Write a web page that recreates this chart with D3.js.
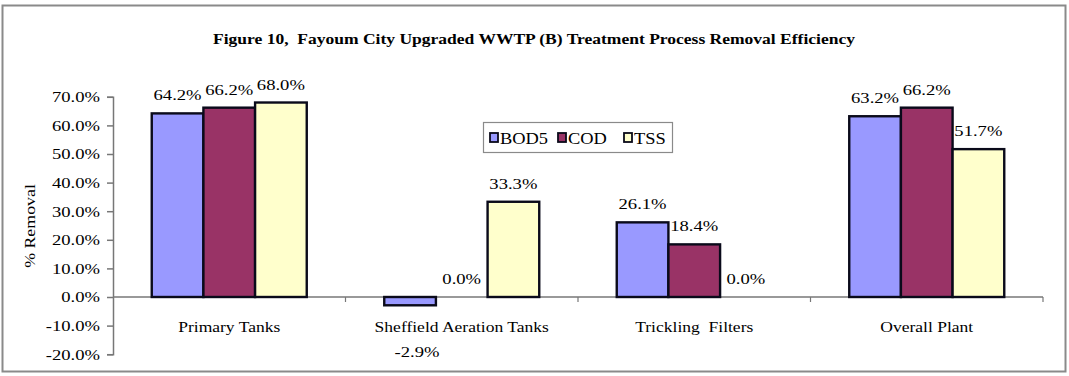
<!DOCTYPE html>
<html>
<head>
<meta charset="utf-8">
<script src="https://cdn.jsdelivr.net/npm/d3@7"></script>
<style>
  html, body { margin: 0; padding: 0; background: #ffffff; }
  svg { display: block; }
  text { font-family: "Liberation Serif", "Times New Roman", serif; fill: #000; }
</style>
</head>
<body>
<svg id="chart" width="1069" height="376"></svg>
<script>
// Treatment stages (categories) and removal efficiency per parameter (%)
const categories = ["Primary Tanks", "Sheffield Aeration Tanks", "Trickling  Filters", "Overall Plant"];
const seriesNames = ["BOD5", "COD", "TSS"];
const bod5 = [64.2, -2.9, 26.1, 63.2];
const cod = [66.2, 0.0, 18.4, 66.2];
const tss = [68.0, 33.3, 0.0, 51.7];
const yTicks = [-20, -10, 0, 10, 20, 30, 40, 50, 60, 70];
const titleText = "Figure 10,  Fayoum City Upgraded WWTP (B) Treatment Process Removal Efficiency";
const yAxisTitle = "% Removal";

const seriesValues = { BOD5: bod5, COD: cod, TSS: tss };
const colors = { BOD5: "#9999ff", COD: "#993366", TSS: "#ffffcc" };

const svg = d3.select("#chart");

// widen glyph runs a little (wide serif face)
function stretch(sel, k) {
  sel.each(function () {
    const len = this.getComputedTextLength();
    d3.select(this).attr("textLength", len * k).attr("lengthAdjust", "spacingAndGlyphs");
  });
}

// outer frame
svg.append("rect")
  .attr("x", 2.5).attr("y", 5.5).attr("width", 1063).attr("height", 366)
  .attr("fill", "#ffffff").attr("stroke", "#8a8a8a").attr("stroke-width", 2);

// title
const title = svg.append("text")
  .attr("x", 534).attr("y", 44)
  .attr("text-anchor", "middle")
  .attr("font-size", 15.5).attr("font-weight", "bold")
  .style("white-space", "pre")
  .text(titleText);
title.attr("textLength", 642).attr("lengthAdjust", "spacingAndGlyphs");

// scales
const y = d3.scaleLinear().domain([-20, 70]).range([354.2, 96.8]);
const x0 = d3.scaleBand().domain(categories).range([113, 1043]).paddingInner(0).paddingOuter(0);
const bw = x0.bandwidth();
const barW = bw / 4.5;
const x1 = d3.scaleBand().domain(seriesNames).range([0.75 * barW, 3.75 * barW]).padding(0);

// y axis
const yAxis = d3.axisLeft(y)
  .tickValues(yTicks)
  .tickSize(6)
  .tickPadding(7)
  .tickFormat(d => d.toFixed(1) + "%");
const gy = svg.append("g").attr("transform", "translate(113,0)").call(yAxis);
gy.select(".domain").attr("stroke", "#777").attr("stroke-width", 1.5);
gy.selectAll(".tick line").attr("stroke", "#777").attr("stroke-width", 1.5);
gy.selectAll(".tick text").attr("font-size", 15.5).attr("fill", "#000")
  .style("font-family", "'Liberation Serif', serif");
stretch(gy.selectAll(".tick text"), 1.2);

// y axis title
svg.append("text")
  .attr("transform", "translate(35,226) rotate(-90)")
  .attr("text-anchor", "middle")
  .attr("font-size", 15.5)
  .text(yAxisTitle)
  .call(stretch, 1.15);

// category axis along zero
const gx = svg.append("g").attr("transform", `translate(0,${y(0)})`);
gx.append("line")
  .attr("x1", 113).attr("x2", 1043)
  .attr("stroke", "#777").attr("stroke-width", 1.5);
gx.selectAll("line.cat-tick")
  .data(categories)
  .join("line")
  .attr("class", "cat-tick")
  .attr("x1", d => x0(d) + bw).attr("x2", d => x0(d) + bw)
  .attr("y1", 0).attr("y2", 5)
  .attr("stroke", "#777").attr("stroke-width", 1.2);
gx.selectAll("text")
  .data(categories)
  .join("text")
  .attr("x", d => x0(d) + bw / 2)
  .attr("y", 35)
  .attr("text-anchor", "middle")
  .attr("font-size", 15.5)
  .style("white-space", "pre")
  .text(d => d)
  .call(stretch, 1.13);

// bars
const rows = [];
categories.forEach((c, i) => {
  seriesNames.forEach(s => rows.push({ cat: c, series: s, value: seriesValues[s][i] }));
});

svg.append("g").selectAll("rect")
  .data(rows)
  .join("rect")
  .attr("x", d => x0(d.cat) + x1(d.series))
  .attr("width", x1.bandwidth())
  .attr("y", d => y(Math.max(0, d.value)))
  .attr("height", d => Math.abs(y(d.value) - y(0)))
  .attr("fill", d => colors[d.series])
  .attr("stroke", "#0a0a1a")
  .attr("stroke-width", 2.4);

// value labels
svg.append("g").selectAll("text")
  .data(rows)
  .join("text")
  .attr("x", d => x0(d.cat) + x1(d.series) + x1.bandwidth() / 2 + (d.value < 0 ? 7 : 0))
  .attr("y", d => d.value < 0 ? y(d.value) + 52 : y(d.value) - 13)
  .attr("text-anchor", "middle")
  .attr("font-size", 15.5)
  .text(d => d.value.toFixed(1) + "%")
  .call(stretch, 1.2);

// legend
const legend = svg.append("g").attr("transform", "translate(483,122)");
legend.append("rect")
  .attr("x", 0.5).attr("y", 0.5).attr("width", 189).attr("height", 30)
  .attr("fill", "#ffffff").attr("stroke", "#8a8a8a").attr("stroke-width", 1.2);
const legendX = { BOD5: 7, COD: 75, TSS: 141 };
const items = legend.selectAll("g.item")
  .data(seriesNames)
  .join("g")
  .attr("class", "item")
  .attr("transform", d => `translate(${legendX[d]},0)`);
items.append("rect")
  .attr("x", 0).attr("y", 11).attr("width", 8).attr("height", 9)
  .attr("fill", d => colors[d])
  .attr("stroke", "#0a0a1a").attr("stroke-width", 1.8);
items.append("text")
  .attr("x", 10).attr("y", 21.5)
  .attr("font-size", 16)
  .text(d => d)
  .call(stretch, 1.15);
</script>
</body>
</html>
